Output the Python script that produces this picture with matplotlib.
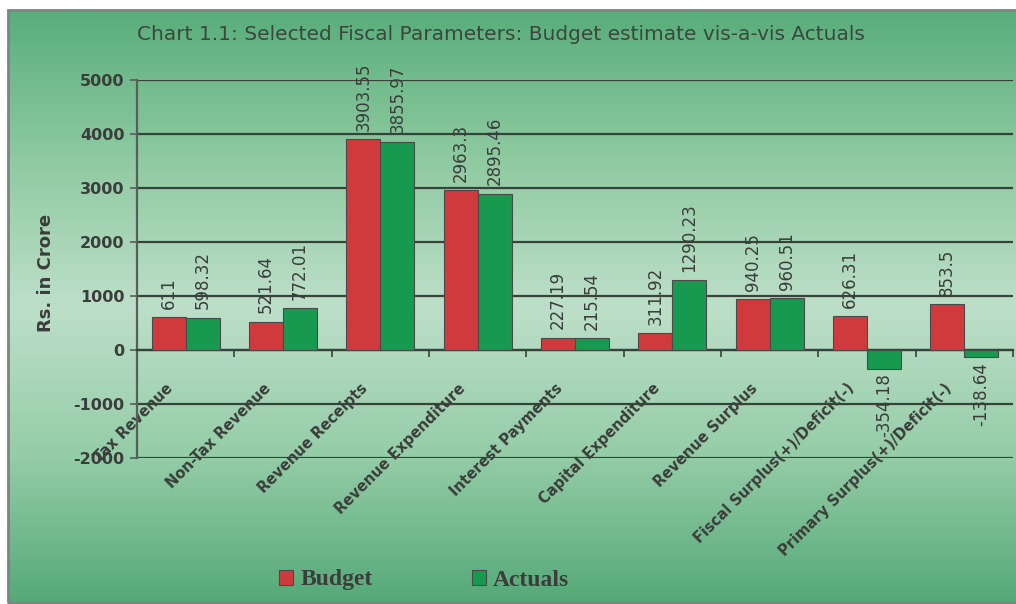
import numpy as np
import matplotlib
matplotlib.use("Agg")
import matplotlib.pyplot as plt
from matplotlib.colors import LinearSegmentedColormap
from matplotlib.patches import Rectangle
import matplotlib.transforms as mtransforms

categories = ["Tax Revenue", "Non-Tax Revenue", "Revenue Receipts",
              "Revenue Expenditure", "Interest Payments", "Capital Expenditure",
              "Revenue Surplus", "Fiscal Surplus(+)/Deficit(-)",
              "Primary Surplus(+)/Deficit(-)"]
budget = [611, 521.64, 3903.55, 2963.3, 227.19, 311.92, 940.25, 626.31, 853.5]
actuals = [598.32, 772.01, 3855.97, 2895.46, 215.54, 1290.23, 960.51, -354.18, -138.64]
budget_labels = ["611", "521.64", "3903.55", "2963.3", "227.19", "311.92", "940.25", "626.31", "853.5"]
actual_labels = ["598.32", "772.01", "3855.97", "2895.46", "215.54", "1290.23", "960.51", "-354.18", "-138.64"]
yticks = [-2000, -1000, 0, 1000, 2000, 3000, 4000, 5000]

RED = "#d13a3c"
GREEN = "#17994f"
TEXT = "#3a3d3b"

fig = plt.figure(figsize=(10.16, 6.04), dpi=100)

# green gradient panel behind everything
bg = fig.add_axes([0, 0, 1, 1], zorder=-10)
bg.set_axis_off()
cmap = LinearSegmentedColormap.from_list(
    "panel", [(0.0, "#59ae7b"), (0.25, "#8fcaa1"), (0.5, "#bddfc9"),
              (0.75, "#95cda8"), (1.0, "#55a977")])
grad = np.linspace(0, 1, 300)[:, None] * np.ones((1, 10))
bg.imshow(grad, cmap=cmap, aspect="auto", extent=[0.008, 1.0, 0.0, 0.983],
          origin="upper")
bg.set_xlim(0, 1)
bg.set_ylim(0, 1)
bg.add_patch(Rectangle((0.008, 0.002), 1.2, 0.981, fill=False,
                       edgecolor="#7d8580", linewidth=2))

ax = fig.add_axes([137 / 1016, 1 - 458 / 604, 876 / 1016, 378 / 604])
ax.set_facecolor("none")

x = np.arange(len(categories))
w = 0.35
b1 = ax.bar(x - w / 2, budget, w, color=RED, edgecolor="#4a4a4a", linewidth=0.8, zorder=3)
b2 = ax.bar(x + w / 2, actuals, w, color=GREEN, edgecolor="#4a4a4a", linewidth=0.8, zorder=3)

for bars, labels in ((b1, budget_labels), (b2, actual_labels)):
    for rect, lab in zip(bars, labels):
        v = rect.get_height()
        cx = rect.get_x() + rect.get_width() / 2
        if v >= 0:
            ax.annotate(lab, (cx, v), xytext=(0, 6), textcoords="offset points",
                        rotation=90, ha="center", va="bottom", fontsize=12,
                        color=TEXT, zorder=4)
        else:
            ax.annotate(lab, (cx, v), xytext=(0, -3), textcoords="offset points",
                        rotation=90, ha="center", va="top", fontsize=12,
                        color=TEXT, zorder=4)

ax.set_xlim(-0.5, len(categories) - 0.5)
ax.set_ylim(-2000, 5000)
ax.set_yticks(yticks)
ax.set_yticklabels([str(t) for t in yticks], fontsize=11.5, fontweight="bold", color=TEXT)
ax.yaxis.grid(True, color="#36423a", linewidth=1.6, zorder=1)
ax.set_axisbelow(True)

for s in ("top", "right"):
    ax.spines[s].set_visible(False)
ax.spines["left"].set_color("#55605a")
ax.spines["left"].set_linewidth(1.6)
ax.spines["bottom"].set_position(("data", 0))
ax.spines["bottom"].set_color("#36423a")
ax.spines["bottom"].set_linewidth(1.6)
ax.tick_params(axis="y", length=5, width=1.2, color="#55605a", pad=4)

# category boundaries get the tick marks, names sit at the centres
ax.set_xticks(np.arange(len(categories) + 1) - 0.5, minor=True)
ax.set_xticks(x)
ax.tick_params(axis="x", which="minor", length=5, width=1.2, color="#36423a", direction="out")
ax.tick_params(axis="x", which="major", length=0, pad=22)
ax.set_xticklabels(categories, rotation=45, ha="right", va="top",
                   rotation_mode="anchor", fontsize=10.5, fontweight="bold", color=TEXT)
shift = mtransforms.ScaledTranslation(-0.2, 0, fig.dpi_scale_trans)
for lbl in ax.get_xticklabels():
    lbl.set_transform(lbl.get_transform() + shift)

ax.set_ylabel("Rs. in Crore", fontsize=13, fontweight="bold", color=TEXT)
ax.yaxis.set_label_coords(-0.094, 0.49)

fig.text(0.493, 1 - 35 / 604, "Chart 1.1: Selected Fiscal Parameters: Budget estimate vis-a-vis Actuals",
         ha="center", va="center", fontsize=14.5, color="#3c463e")

leg = fig.legend([b1, b2], ["Budget", "Actuals"], loc="center left",
                 bbox_to_anchor=(258 / 1016, 1 - 580 / 604), ncol=2, frameon=False,
                 prop={"family": "Liberation Serif", "weight": "bold", "size": 17},
                 handlelength=0.6, handleheight=0.6, handletextpad=0.3, columnspacing=4.2)
for t in leg.get_texts():
    t.set_color(TEXT)

fig.savefig("out.png", dpi=100)
